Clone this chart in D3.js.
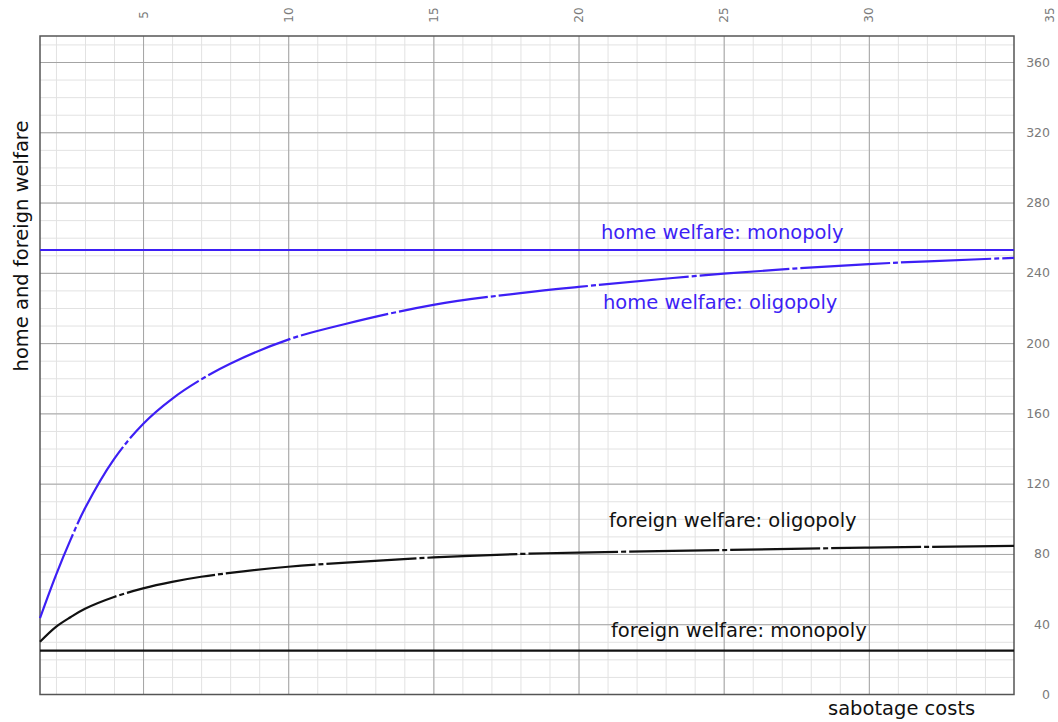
<!DOCTYPE html>
<html>
<head>
<meta charset="utf-8">
<script src="https://cdn.jsdelivr.net/npm/d3@7"></script>
<style>
  body { margin: 0; background: #fff; }
  svg { display: block; }
</style>
</head>
<body>
<div id="chart"></div>
<script>
// sabotage costs (x) and welfare levels
var sabotage_costs     = [1.45, 2, 2.5, 3, 4, 5, 6, 7, 8, 10, 12, 15, 18, 20, 25, 30, 35];
var home_oligopoly     = [43.5, 68, 88, 106, 134, 154, 168.3, 179.3, 188.3, 202, 211, 221.8, 228.5, 232, 239.5, 245, 248.5];
var foreign_oligopoly  = [30, 38.5, 44, 48.8, 55.5, 60.4, 64.1, 67, 69.2, 72.7, 75.1, 78, 80, 80.8, 82.2, 83.6, 84.6];
var home_monopoly      = 253;
var foreign_monopoly   = 25;

var x_ticks = [5, 10, 15, 20, 25, 30, 35];
var y_ticks = [0, 40, 80, 120, 160, 200, 240, 280, 320, 360];

var chart_width  = 1058;
var chart_height = 722;
var plot_left = 40, plot_right = 1014, plot_top = 36, plot_bottom = 694.5;

var blue = '#3d1ff5';

var svg = d3.select('#chart')
    .append('svg')
    .attr('width', chart_width)
    .attr('height', chart_height);

var scale_x = d3.scaleLinear()
    .domain([1.45, 35])
    .range([plot_left, plot_right]);

var scale_y = d3.scaleLinear()
    .domain([0, 374.8])
    .range([plot_bottom, plot_top]);

// minor grid
svg.append('g')
    .attr('transform', 'translate(0,' + plot_bottom + ')')
    .call(d3.axisBottom(scale_x).tickValues(d3.range(2, 35)).tickSize(-(plot_bottom - plot_top)).tickFormat(''))
    .call(function(g) {
        g.select('.domain').remove();
        g.selectAll('line').attr('stroke', '#e2e2e2').attr('stroke-width', 1);
    });

svg.append('g')
    .attr('transform', 'translate(' + plot_left + ',0)')
    .call(d3.axisLeft(scale_y).tickValues(d3.range(10, 375, 10)).tickSize(-(plot_right - plot_left)).tickFormat(''))
    .call(function(g) {
        g.select('.domain').remove();
        g.selectAll('line').attr('stroke', '#e2e2e2').attr('stroke-width', 1);
    });

// major grid
svg.append('g')
    .attr('transform', 'translate(0,' + plot_bottom + ')')
    .call(d3.axisBottom(scale_x).tickValues([5, 10, 15, 20, 25, 30]).tickSize(-(plot_bottom - plot_top)).tickFormat(''))
    .call(function(g) {
        g.select('.domain').remove();
        g.selectAll('line').attr('stroke', '#a4a4a4').attr('stroke-width', 1);
    });

svg.append('g')
    .attr('transform', 'translate(' + plot_left + ',0)')
    .call(d3.axisLeft(scale_y).tickValues(d3.range(40, 361, 40)).tickSize(-(plot_right - plot_left)).tickFormat(''))
    .call(function(g) {
        g.select('.domain').remove();
        g.selectAll('line').attr('stroke', '#a4a4a4').attr('stroke-width', 1);
    });

// frame
svg.append('rect')
    .attr('x', plot_left)
    .attr('y', plot_top)
    .attr('width', plot_right - plot_left)
    .attr('height', plot_bottom - plot_top)
    .attr('fill', 'none')
    .attr('stroke', '#555')
    .attr('stroke-width', 1.5);

// top axis labels, rotated
svg.append('g')
    .attr('transform', 'translate(0,' + plot_top + ')')
    .call(d3.axisTop(scale_x).tickValues(x_ticks).tickSize(0).tickFormat(d3.format('d')))
    .call(function(g) {
        g.select('.domain').remove();
        g.selectAll('.tick text')
            .attr('font-family', 'DejaVu Sans')
            .attr('font-size', 12)
            .attr('fill', '#7a7a7a')
            .attr('text-anchor', 'middle')
            .attr('y', 0)
            .attr('dy', 0)
            .attr('transform', function(d) {
                var shift = d === 35 ? 35 : 0;
                return 'translate(' + (shift + 4) + ',-21) rotate(-90)';
            });
    });

// right axis labels
svg.append('g')
    .attr('transform', 'translate(' + plot_right + ',0)')
    .call(d3.axisRight(scale_y).tickValues(y_ticks).tickSize(0))
    .call(function(g) {
        g.select('.domain').remove();
        g.selectAll('.tick text')
            .attr('font-family', 'DejaVu Sans')
            .attr('font-size', 12.5)
            .attr('fill', '#7a7a7a')
            .attr('text-anchor', 'end')
            .attr('x', 36);
    });

// lines
var line = d3.line()
    .x(function(d) { return scale_x(d[0]); })
    .y(function(d) { return scale_y(d[1]); })
    .curve(d3.curveCatmullRom.alpha(0.5));

svg.append('line')
    .attr('x1', scale_x(1.45)).attr('x2', scale_x(35))
    .attr('y1', scale_y(foreign_monopoly)).attr('y2', scale_y(foreign_monopoly))
    .attr('stroke', '#111').attr('stroke-width', 2.2);

svg.append('line')
    .attr('x1', scale_x(1.45)).attr('x2', scale_x(35))
    .attr('y1', scale_y(home_monopoly)).attr('y2', scale_y(home_monopoly))
    .attr('stroke', blue).attr('stroke-width', 2.2);

svg.append('path')
    .datum(d3.zip(sabotage_costs, foreign_oligopoly))
    .attr('d', line)
    .attr('fill', 'none')
    .attr('stroke', '#111')
    .attr('stroke-width', 2.2)
    .attr('stroke-dasharray', '90,3,5,3');

svg.append('path')
    .datum(d3.zip(sabotage_costs, home_oligopoly))
    .attr('d', line)
    .attr('fill', 'none')
    .attr('stroke', blue)
    .attr('stroke-width', 2.2)
    .attr('stroke-dasharray', '90,3,5,3');

// labels
var labels = [
    { text: 'home welfare: monopoly', x: 601, y: 239, color: blue },
    { text: 'home welfare: oligopoly', x: 603, y: 309, color: blue },
    { text: 'foreign welfare: oligopoly', x: 609, y: 527, color: '#111' },
    { text: 'foreign welfare: monopoly', x: 611, y: 637, color: '#111' }
];

svg.selectAll('.curve-label')
    .data(labels)
    .enter()
    .append('text')
    .attr('class', 'curve-label')
    .attr('x', function(d) { return d.x; })
    .attr('y', function(d) { return d.y; })
    .attr('fill', function(d) { return d.color; })
    .attr('font-family', 'DejaVu Sans')
    .attr('font-size', 19.5)
    .text(function(d) { return d.text; });

svg.append('text')
    .attr('x', 828)
    .attr('y', 715)
    .attr('font-family', 'DejaVu Sans')
    .attr('font-size', 19.5)
    .attr('fill', '#111')
    .text('sabotage costs');

svg.append('text')
    .attr('transform', 'translate(28,246) rotate(-90)')
    .attr('text-anchor', 'middle')
    .attr('font-family', 'DejaVu Sans')
    .attr('font-size', 19.5)
    .attr('fill', '#111')
    .text('home and foreign welfare');
</script>
</body>
</html>
